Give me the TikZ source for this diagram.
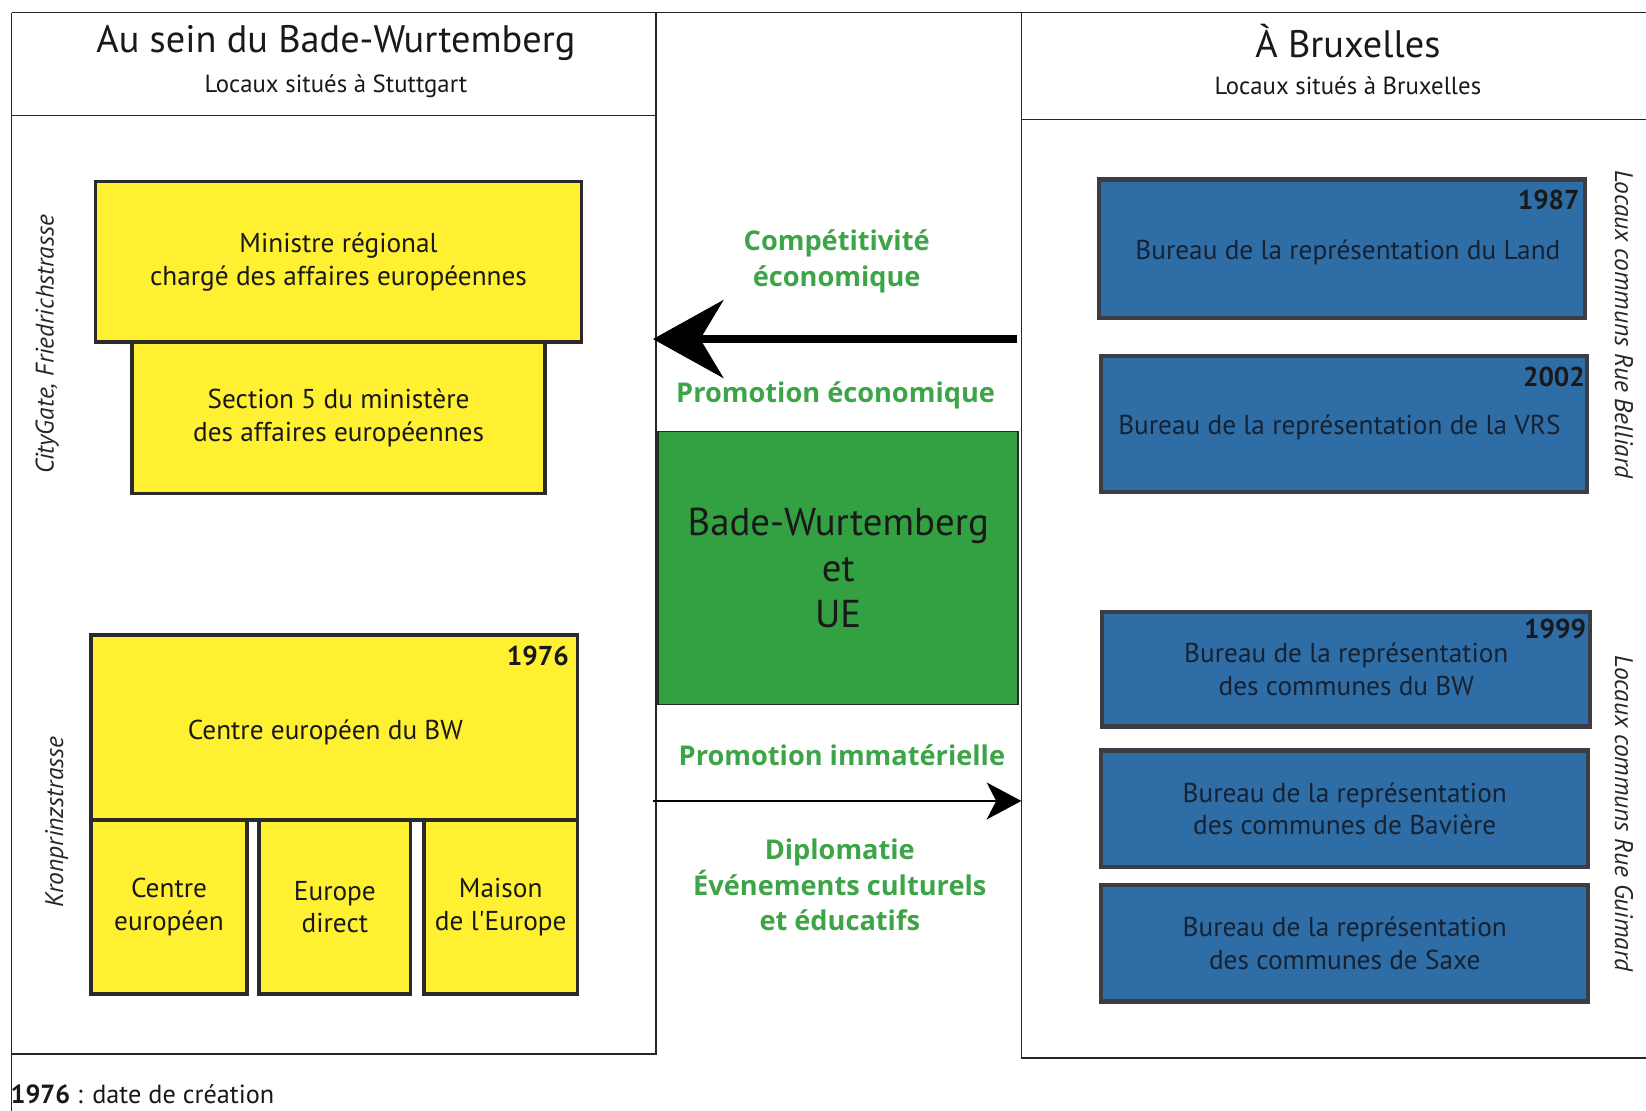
\documentclass[tikz,border=0pt]{standalone}
\usepackage{fontspec}
\setmainfont{PT Sans}
\newfontfamily\greenfont{Open Sans}
\usetikzlibrary{arrows.meta}
\definecolor{ylw}{RGB}{255,240,50}
\definecolor{blu}{RGB}{46,109,166}
\definecolor{grnbox}{RGB}{51,161,65}
\definecolor{grntxt}{RGB}{61,164,71}
\definecolor{bord}{RGB}{42,42,42}
\definecolor{bbord}{RGB}{58,62,68}
\definecolor{navy}{RGB}{22,34,50}
\begin{document}
\begin{tikzpicture}[x=1pt,y=-1pt,
  panel/.style={draw=black!85, line width=1.4pt},
  ybox/.style={draw=bord, fill=ylw, line width=3.5pt, inner sep=0pt, align=center,
     text=black!90, font=\fontsize{26}{31}\selectfont},
  bbox/.style={draw=bbord, fill=blu, line width=4pt, inner sep=0pt, align=center,
     text=navy, font=\fontsize{26}{31}\selectfont},
  year/.style={anchor=east, inner sep=0pt, font=\fontsize{26}{26}\selectfont\bfseries, text=black!90},
  gtxt/.style={align=center, text=grntxt, font=\greenfont\fontsize{25.9}{34}\selectfont\bfseries},
  street/.style={font=\fontsize{24.2}{24.2}\selectfont\itshape, text=black!85},
  title/.style={font=\fontsize{36.5}{36.5}\selectfont, text=black!90},
  subtitle/.style={font=\fontsize{23.6}{23.6}\selectfont, text=black!90}
]
\useasboundingbox (0,0) rectangle (1568,1058);
\fill[white] (0,0) rectangle (1568,1058);

% panel frames
\draw[panel] (11,12) -- (1568,12);
\draw[panel] (11,12) -- (11,1058);
\draw[panel] (11,110) -- (625,110);
\draw[panel] (625,12) -- (625,1004) -- (11,1004);
\draw[panel] (973,12) -- (973,1008) -- (1568,1008);
\draw[panel] (973,114) -- (1568,114);

% titles
\node[title] (tl) at (320,41) {Au sein du Bade-Wurtemberg};
\node[subtitle] (stl) at (320,82) {Locaux situés à Stuttgart};
\node[title] (tr) at (1284,39) {À Bruxelles};
\node[subtitle] (str) at (1284,82) {Locaux situés à Bruxelles};

% yellow boxes
\node[ybox, minimum width=463, minimum height=153] (min) at (322.5,249.5)
  {Ministre régional\\chargé des affaires européennes};
\node[ybox, minimum width=393, minimum height=144] (sec) at (322.5,398)
  {Section 5 du ministère\\des affaires européennes};
\node[ybox, minimum width=463, minimum height=176] (ce) at (318.5,693) {};
\node[inner sep=0pt, text=black!90, font=\fontsize{26}{31}\selectfont] (cet) at (310,698)
  {Centre européen du BW};
\node[year] (y76) at (542,625) {1976};
\node[ybox, minimum width=148, minimum height=166] (c1) at (161,864) {Centre\\européen};
\node[ybox, minimum width=144, minimum height=166] (c2) at (319,864) {Europe\\direct};
\node[ybox, minimum width=146, minimum height=166] (c3) at (477,864) {Maison\\de l\textquotesingle Europe};

% street labels left
\node[street, rotate=90] (cg) at (45,328) {CityGate, Friedrichstrasse};
\node[street, rotate=90] (kp) at (54,783) {Kronprinzstrasse};

% blue boxes
\node[bbox, minimum width=463, minimum height=132] (land) at (1278.5,237) {};
\node[inner sep=0pt, text=navy, font=\fontsize{26}{31}\selectfont] (landt) at (1284,240)
  {Bureau de la représentation du Land};
\node[year] (y87) at (1505,190) {1987};
\node[bbox, minimum width=463, minimum height=130] (vrs) at (1280.5,404) {};
\node[inner sep=0pt, text=navy, font=\fontsize{26}{31}\selectfont] (vrst) at (1276,407)
  {Bureau de la représentation de la VRS};
\node[year] (y02) at (1510,359) {2002};
\node[bbox, minimum width=465, minimum height=109] (bwc) at (1282.5,637.5)
  {Bureau de la représentation\\des communes du BW};
\node[year] (y99) at (1511,599) {1999};
\node[bbox, minimum width=464, minimum height=111] (bav) at (1281,770.5)
  {Bureau de la représentation\\des communes de Bavière};
\node[bbox, minimum width=464, minimum height=111] (sax) at (1281,898.5)
  {Bureau de la représentation\\des communes de Saxe};

\node[street, rotate=-90] (bel) at (1547,309) {Locaux communs Rue Belliard};
\node[street, rotate=-90] (gui) at (1547,775) {Locaux communs Rue Guimard};

% central green box
\node[draw=bord, fill=grnbox, line width=1.5pt, minimum width=343, minimum height=260,
  inner sep=0pt, align=center, text=black!90, font=\fontsize{37}{44}\selectfont] (bw) at (798.5,541)
  {Bade-Wurtemberg\\et\\UE};

% green labels
\node[gtxt] (comp) at (797,249) {Compétitivité\\économique};
\node[gtxt] (proe) at (796,377) {Promotion économique};
\node[gtxt] (proi) at (802,719) {Promotion immatérielle};
\node[gtxt] (dipl) at (800,843) {Diplomatie\\Événements culturels\\et éducatifs};

% arrows
\coordinate (a1s) at (969,323);
\coordinate (a1e) at (622,323);
\coordinate (a2s) at (622,763);
\coordinate (a2e) at (973,763);
\draw[line width=8pt, -{Stealth[length=67pt, width=74pt, inset=22pt]}] (a1s) -- (a1e);
\draw[line width=2.8pt, -{Stealth[length=33pt, width=35pt, inset=9pt]}] (a2s) -- (a2e);

% legend
\node[anchor=base west, inner sep=0pt, font=\fontsize{25}{25}\selectfont, text=black!90] (leg) at (10,1051)
  {\textbf{1976} : date de création};
\end{tikzpicture}
\end{document}
